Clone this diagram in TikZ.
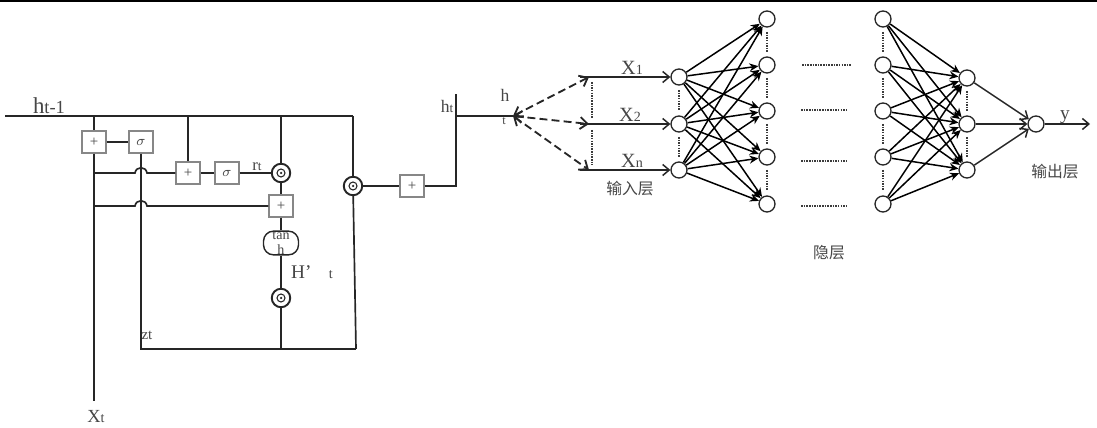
\documentclass[tikz,border=0pt]{standalone}
\usepackage{amsmath,amssymb}
\usepackage{fontspec}
\setmainfont{Liberation Serif}
\newfontfamily\cjk{Noto Sans CJK SC}
\usepackage{tikz}
\usetikzlibrary{shapes.misc,arrows.meta,positioning,calc}
\definecolor{wireblack}{RGB}{38,38,38}
\definecolor{boxgrey}{RGB}{135,135,135}
\definecolor{textgrey}{RGB}{70,70,70}
\newcommand{\fsz}[1]{\fontsize{#1}{#1}\selectfont}
\tikzset{
  wire/.style={line width=0.95pt,draw=wireblack},
  opbox/.style={draw=boxgrey,line width=0.7pt,fill=white,minimum width=0.48cm,minimum height=0.44cm,inner sep=0pt,text=textgrey,font=\fsz{8.5}},
  mulnode/.style={circle,draw=wireblack,line width=1.1pt,fill=white,minimum size=0.37cm,inner sep=0pt,
    path picture={\draw[line width=0.6pt,wireblack] (path picture bounding box.center) circle (0.08cm);
      \fill[wireblack] (path picture bounding box.center) circle (0.025cm);}},
  neuron/.style={circle,draw=wireblack,line width=0.75pt,fill=white,minimum size=0.32cm,inner sep=0pt},
  lbl/.style={inner sep=0pt,text=textgrey},
  cjklbl/.style={inner sep=0pt,text=textgrey,font=\cjk\fsz{9}},
  dashlink/.style={line width=1.05pt,draw=wireblack,dash pattern=on 4.5pt off 2.4pt,{Straight Barb[length=1.5mm,width=2.4mm]}-{Straight Barb[length=1.5mm,width=2.4mm]}},
  inlink/.style={line width=0.85pt,draw=wireblack,-{Straight Barb[length=1.3mm,width=2.2mm]}},
  netlink/.style={line width=0.85pt,draw=black,-{Stealth[length=1.8mm,width=1.6mm]}},
  dotrow/.style={line width=1.1pt,draw=wireblack!90,dash pattern=on 0.9pt off 0.6pt},
}
\begin{document}
\begin{tikzpicture}[x=0.02cm,y=-0.02cm]
\useasboundingbox (0,0) rectangle (1097,428);
\fill[black] (0,0) rectangle (1097,2);
% ---------- the gated cell ----------
\coordinate (lineL) at (5,116);
\coordinate (topA) at (94,116);
\coordinate (topB) at (188,116);
\coordinate (topC) at (281,116);
\coordinate (topD) at (353,116);
\coordinate (jA) at (94,173);
\coordinate (jB) at (94,206);
\coordinate (xtEnd) at (94,401);
\coordinate (cornerL) at (141,349);
\coordinate (cornerM) at (281,349);
\coordinate (cornerR) at (356,349);
\node[opbox] (plusA) at (94,142) {+};
\node[opbox] (sigA) at (141,142) {$\sigma$};
\node[opbox] (plusB) at (188,173) {+};
\node[opbox] (sigB) at (227,173) {$\sigma$};
\node[mulnode] (mulA) at (281,173) {};
\node[opbox] (plusC) at (281,206) {+};
\node[draw=wireblack,line width=0.8pt,rounded corners=0.2cm,fill=white,minimum width=0.7cm,minimum height=0.44cm,inner sep=0pt,
  text=textgrey,font=\fsz{8},align=center] (tanhA) at (281,243) {tan\\[1pt]h};
\node[mulnode] (mulB) at (281,298) {};
\node[mulnode] (mulC) at (353,186) {};
\node[opbox] (plusD) at (412,186) {+};
\draw[wire] (lineL) -- (topD);
\draw[wire] (topA) -- (plusA);
\draw[wire] (plusA) -- (xtEnd);
\draw[wire] (plusA) -- (sigA);
\draw[wire] (sigA) -- (cornerL) -- (cornerR);
\draw[wire] (topB) -- (plusB);
\draw[wire] (jA) -- ++(41,0) .. controls +(1,-7) and +(-1,-7) .. ++(12,0) -- (plusB);
\draw[wire] (plusB) -- (sigB);
\draw[wire] (sigB) -- (mulA);
\draw[wire] (topC) -- (mulA);
\draw[wire] (mulA) -- (plusC);
\draw[wire] (jB) -- ++(41,0) .. controls +(1,-7) and +(-1,-7) .. ++(12,0) -- (plusC);
\draw[wire] (plusC) -- (tanhA);
\draw[wire] (tanhA) -- (mulB);
\draw[wire] (mulB) -- (cornerM);
\draw[wire] (topD) -- (mulC);
\draw[wire] (mulC) -- (cornerR);
\draw[wire] (mulC) -- (plusD);
% ---------- output of the cell ----------
\coordinate (htTop) at (456,94);
\coordinate (htMid) at (456,116);
\coordinate (htLow) at (456,186);
\coordinate (hSrc) at (513,116);
\draw[wire] (plusD) -- (htLow) -- (htTop);
\draw[wire] (htMid) -- (hSrc);
\node[lbl,font=\fsz{13}] (lblHprev) at (49,106) {h{\fsz{10.5}t-1}};
\node[lbl,font=\fsz{9.5}] (lblRt) at (257,167) {r{\fsz{7.5}t}};
\node[lbl,font=\fsz{8.5}] (lblZt) at (147,335) {zt};
\node[lbl,font=\fsz{11}] (lblHd) at (312,272) {H'\hspace{0.9em}{\fsz{8}t}};
\node[lbl,font=\fsz{10.5}] (lblXt) at (96,417) {X{\fsz{8}t}};
\node[lbl,font=\fsz{10}] (lblHt) at (447,106) {h{\fsz{7.5}t}};
\node[lbl,font=\fsz{10}] (lblH) at (505,95) {h};
\node[lbl,font=\fsz{7}] (lblT) at (504,121) {t};
% ---------- input layer ----------
\foreach \i/\yy in {1/77,2/124,3/170}{
  \coordinate (fan\i) at (589,\yy);
  \coordinate (start\i) at (580,\yy);
  \node[neuron] (inA\i) at (679,\yy) {};
  \draw[dashlink] (hSrc) -- (fan\i);
  \draw[inlink] (start\i) -- (inA\i);
}
\draw[dotrow] (592,82) -- (592,118);
\draw[dotrow] (592,130) -- (592,165);
\draw[dotrow] (inA1) ++(0,13) -- ++(0,20);
\draw[dotrow] (inA2) ++(0,13) -- ++(0,20);
\node[lbl,font=\fsz{11.5}] (lblX1) at (632,68) {X{\fsz{8}1}};
\node[lbl,font=\fsz{11.5}] (lblX2) at (630,115) {X{\fsz{8}2}};
\node[lbl,font=\fsz{11.5}] (lblXn) at (632,161) {X{\fsz{8}n}};
\node[cjklbl] (lblIn) at (630,189) {输入层};
% ---------- hidden layers ----------
\foreach \i/\yy in {1/19,2/65,3/111,4/157,5/204}{
  \node[neuron] (hidA\i) at (767,\yy) {};
  \node[neuron] (hidB\i) at (883,\yy) {};
  \foreach \j in {1,2,3}{
    \draw[netlink] (inA\j) -- (hidA\i);
  }
}
\foreach \i in {1,2,3,4}{
  \draw[dotrow] (hidA\i) ++(0,13) -- ++(0,20);
  \draw[dotrow] (hidB\i) ++(0,13) -- ++(0,20);
}
\draw[dotrow] (802,65) -- (851,65);
\draw[dotrow] (801,110) -- (848,110);
\draw[dotrow] (801,161) -- (848,161);
\draw[dotrow] (801,206) -- (848,206);
\node[cjklbl] (lblHid) at (829,253) {隐层};
% ---------- output layer ----------
\foreach \j/\yy in {1/78,2/124,3/170}{
  \node[neuron] (outA\j) at (967,\yy) {};
}
\node[neuron] (outY) at (1036,124) {};
\foreach \i in {1,2,3,4,5}{
  \foreach \j in {1,2,3}{
    \draw[netlink] (hidB\i) -- (outA\j);
  }
}
\foreach \j in {1,2,3}{
  \draw[inlink] (outA\j) -- (outY);
}
\draw[dotrow] (outA1) ++(0,13) -- ++(0,20);
\draw[dotrow] (outA2) ++(0,13) -- ++(0,20);
\coordinate (yEnd) at (1090,124);
\draw[inlink] (outY) -- (yEnd);
\node[lbl,font=\fsz{11}] (lblY) at (1065,117) {y};
\node[cjklbl] (lblOut) at (1055,172) {输出层};
\end{tikzpicture}
\end{document}
